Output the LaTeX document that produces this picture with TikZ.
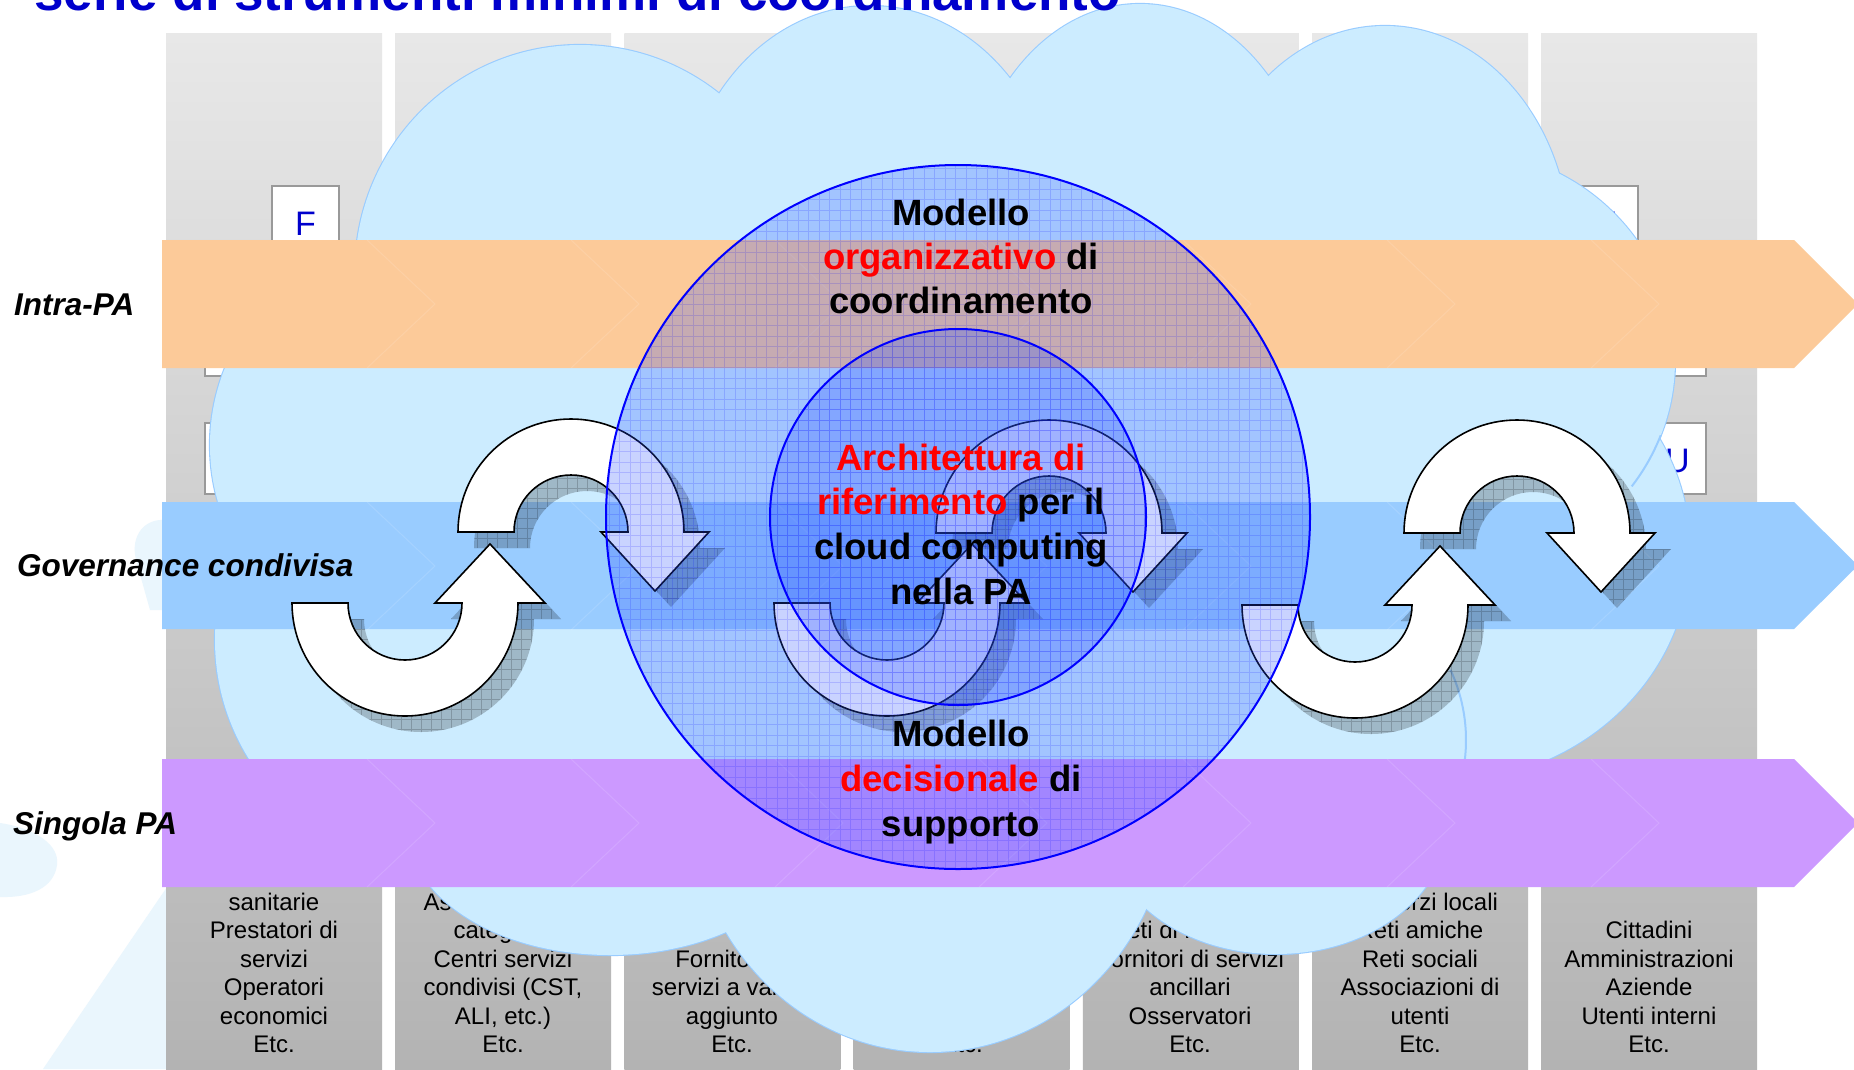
\documentclass[tikz,border=0pt]{standalone}
\usepackage{fontspec}
\setmainfont{Liberation Sans}
\definecolor{titleblue}{RGB}{0,0,204}
\definecolor{colTop}{RGB}{232,232,232}
\definecolor{colBot}{RGB}{179,179,179}
\definecolor{cloudfill}{RGB}{204,236,255}
\definecolor{cloudline}{RGB}{153,204,255}
\definecolor{bandorange}{RGB}{252,202,153}
\definecolor{bandblue}{RGB}{153,204,255}
\definecolor{bandpurple}{RGB}{204,153,255}
\definecolor{circfill}{RGB}{40,80,255}
\definecolor{faintblue}{RGB}{234,246,253}
\definecolor{boxgray}{RGB}{153,153,153}
\definecolor{pured}{RGB}{255,0,0}
\tikzset{
  coltext/.style={font=\fontsize{24}{28}\selectfont, anchor=base, inner sep=0pt},
  ctext/.style={font=\fontsize{36.5}{44}\selectfont\bfseries, anchor=base, inner sep=0pt},
  bandlabel/.style={font=\fontsize{31.5}{36}\selectfont\bfseries\itshape, anchor=base west, inner sep=0pt},
  boxst/.style={fill=white, draw=boxgray, line width=1.5pt},
  boxletter/.style={font=\fontsize{34}{40}\selectfont, text=titleblue, anchor=base, inner sep=0pt},
  chev/.style={draw=white, draw opacity=.12, line width=1pt},
  arrowbody/.style={fill=white, draw=black, line width=1.6pt, line join=miter},
  shadowbody/.style={fill=black, fill opacity=.22},
  shadowgrid/.style={draw=black, draw opacity=.18, line width=.5pt},
  circgrid/.style={draw=blue, draw opacity=.15, line width=.6pt},
  circline/.style={draw=blue, line width=2pt},
  pics/topshadow/.style={code={
    \begin{scope}[shift={(16,-16)}]
      \fill[shadowbody] (-113,0) arc[start angle=180,end angle=0,radius=113pt] -- (138,0) -- (84,-59) -- (30,0) -- (57,0) arc[start angle=0,end angle=180,radius=57pt] -- cycle;
      \clip (-113,0) arc[start angle=180,end angle=0,radius=113pt] -- (138,0) -- (84,-59) -- (30,0) -- (57,0) arc[start angle=0,end angle=180,radius=57pt] -- cycle;
      \draw[shadowgrid, step=10pt] (-120,-70) grid (150,120);
    \end{scope}
  }},
  pics/topbody/.style={code={
    \draw[arrowbody] (-113,0) arc[start angle=180,end angle=0,radius=113pt] -- (138,0) -- (84,-59) -- (30,0) -- (57,0) arc[start angle=0,end angle=180,radius=57pt] -- cycle;
  }},
  pics/botshadow/.style={code={
    \begin{scope}[shift={(16,-16)}]
      \fill[shadowbody] (-113,0) arc[start angle=180,end angle=360,radius=113pt] -- (140,0) -- (85,59) -- (30,0) -- (57,0) arc[start angle=360,end angle=180,radius=57pt] -- cycle;
      \clip (-113,0) arc[start angle=180,end angle=360,radius=113pt] -- (140,0) -- (85,59) -- (30,0) -- (57,0) arc[start angle=360,end angle=180,radius=57pt] -- cycle;
      \draw[shadowgrid, step=10pt] (-120,-120) grid (150,70);
    \end{scope}
  }},
  pics/botbody/.style={code={
    \draw[arrowbody] (-113,0) arc[start angle=180,end angle=360,radius=113pt] -- (140,0) -- (85,59) -- (30,0) -- (57,0) arc[start angle=360,end angle=180,radius=57pt] -- cycle;
  }}
}
\begin{document}
\begin{tikzpicture}[x=1pt,y=1pt]
\useasboundingbox (0,0) rectangle (1854,-1069);
\fill[white] (0,0) rectangle (1854,-1069);

% faint background swoosh
\fill[faintblue] (43,-1069) -- (167,-887) -- (167,-1069) -- cycle;
\fill[faintblue] (0,-823) .. controls (35,-828) and (60,-845) .. (57,-865) .. controls (54,-888) and (30,-898) .. (0,-897) -- cycle;
\fill[faintblue] (166,-520) .. controls (145,-518) and (130,-535) .. (136,-560) -- (150,-610) -- (166,-610) -- cycle;

% gray columns
\foreach \i in {0,...,6}
  \shade[top color=colTop, bottom color=colBot] ({166+229.2*\i},-33) rectangle ++(216,-1036);

% small boxes
\draw[boxst] (272,-186) rectangle (339,-300);
\node[boxletter] (boxF) at (305.5,-235) {F};
\draw[boxst] (205,-330) rectangle (330,-376);
\draw[boxst] (205,-423) rectangle (290,-494);
\draw[boxst] (1573,-186) rectangle (1638,-300);
\node[boxletter] (boxR) at (1605.5,-235) {U};
\draw[boxst] (1580,-330) rectangle (1706,-376);
\draw[boxst] (1649,-423) rectangle (1706,-494);
\node[boxletter] (boxU) at (1677.5,-472) {U};

% column texts
\node[coltext] (c1a) at (274,-910) {sanitarie};
\node[coltext] (c1b) at (274,-938) {Prestatori di};
\node[coltext] (c1c) at (274,-967) {servizi};
\node[coltext] (c1d) at (274,-995) {Operatori};
\node[coltext] (c1e) at (274,-1024) {economici};
\node[coltext] (c1f) at (274,-1052) {Etc.};
\node[coltext] (c2a) at (503,-910) {Associazioni di};
\node[coltext] (c2b) at (503,-938) {categoria};
\node[coltext] (c2c) at (503,-967) {Centri servizi};
\node[coltext] (c2d) at (503,-995) {condivisi (CST,};
\node[coltext] (c2e) at (503,-1024) {ALI, etc.)};
\node[coltext] (c2f) at (503,-1052) {Etc.};
\node[coltext] (c3b) at (732,-967) {Fornitori di};
\node[coltext] (c3c) at (732,-995) {servizi a valore};
\node[coltext] (c3d) at (732,-1024) {aggiunto};
\node[coltext] (c3e) at (732,-1052) {Etc.};
\node[coltext] (c4f) at (962,-1052) {Etc.};
\node[coltext] (c5a) at (1190,-938) {Reti di imprese};
\node[coltext] (c5b) at (1190,-967) {Fornitori di servizi};
\node[coltext] (c5c) at (1190,-995) {ancillari};
\node[coltext] (c5d) at (1190,-1024) {Osservatori};
\node[coltext] (c5e) at (1190,-1052) {Etc.};
\node[coltext] (c6a) at (1420,-910) {Consorzi locali};
\node[coltext] (c6b) at (1420,-938) {Reti amiche};
\node[coltext] (c6c) at (1420,-967) {Reti sociali};
\node[coltext] (c6d) at (1420,-995) {Associazioni di};
\node[coltext] (c6e) at (1420,-1024) {utenti};
\node[coltext] (c6f) at (1420,-1052) {Etc.};
\node[coltext] (c7a) at (1649,-938) {Cittadini};
\node[coltext] (c7b) at (1649,-967) {Amministrazioni};
\node[coltext] (c7c) at (1649,-995) {Aziende};
\node[coltext] (c7d) at (1649,-1024) {Utenti interni};
\node[coltext] (c7e) at (1649,-1052) {Etc.};

% cloud
\foreach \cx/\cy/\rx/\ry in {580/272/225/227, 870/230/190/224, 1140/230/175/226, 1385/250/185/224, 1460/360/215/210, 1440/550/250/232, 415/445/205/205, 440/640/225/225, 610/828/202/127, 930/792/242/260, 1276/826/170/128}
  \draw[draw=cloudline, line width=2.2pt] (\cx,-\cy) ellipse[x radius=\rx pt, y radius=\ry pt];
\foreach \cx/\cy/\rx/\ry in {580/272/225/227, 870/230/190/224, 1140/230/175/226, 1385/250/185/224, 1460/360/215/210, 1440/550/250/232, 415/445/205/205, 440/640/225/225, 610/828/202/127, 930/792/242/260, 1276/826/170/128}
  \fill[cloudfill] (\cx,-\cy) ellipse[x radius=\rx pt, y radius=\ry pt];
\fill[cloudfill] (580,-272) -- (870,-230) -- (1140,-230) -- (1385,-250) -- (1460,-360) -- (1440,-550) -- (1276,-826) -- (930,-792) -- (610,-828) -- (440,-640) -- (415,-445) -- cycle;
\draw[draw=cloudline, line width=2pt] (1460,-360) ++(-21:215pt and 210pt) arc[start angle=-21, end angle=-37, x radius=215pt, y radius=210pt];
\draw[draw=cloudline, line width=2pt] (1300,-740) ++(25:166pt) arc[start angle=25, end angle=-7, radius=166pt];

% bands
\fill[bandorange] (162,-240) -- (1794,-240) -- (1858,-304) -- (1794,-368) -- (162,-368) -- cycle;
\fill[bandblue] (162,-502) -- (1794,-502) -- (1858,-565.5) -- (1794,-629) -- (162,-629) -- cycle;
\fill[bandpurple] (162,-759) -- (1794,-759) -- (1858,-823) -- (1794,-887) -- (162,-887) -- cycle;
\foreach \y in {240,502,759}
  \foreach \x in {367,571,775,979,1183,1387,1591}
    \draw[chev] (\x,-\y) -- ++(68,-64) -- ++(-68,-64);

% band labels
\node[bandlabel] (lintra) at (14,-315) {Intra-PA};
\node[bandlabel] (lgov) at (17,-576) {Governance condivisa};
\node[bandlabel] (lsing) at (13,-834) {Singola PA};

% circular arrows
\pic at (571,-532) {topshadow};
\pic at (405,-603) {botshadow};
\pic at (1049,-533) {topshadow};
\pic at (887,-603) {botshadow};
\pic at (1517,-533) {topshadow};
\pic at (1355,-605) {botshadow};
\pic at (571,-532) {topbody};
\pic at (405,-603) {botbody};
\pic at (1049,-533) {topbody};
\pic at (887,-603) {botbody};
\pic at (1517,-533) {topbody};
\pic at (1355,-605) {botbody};

% circles
\begin{scope}
  \clip (958,-517) circle[radius=352pt];
  \fill[circfill, opacity=.25] (600,-160) rectangle (1320,-880);
  \draw[circgrid, step=10.5pt] (600,-160) grid (1320,-880);
\end{scope}
\begin{scope}
  \clip (958,-517) circle[radius=188pt];
  \fill[circfill, opacity=.25] (760,-320) rectangle (1160,-720);
  \draw[circgrid, step=10.5pt] (600,-160) grid (1320,-880);
\end{scope}
\draw[circline] (958,-517) circle[radius=352pt];
\draw[circline] (958,-517) circle[radius=188pt];

% circle texts
\node[ctext] (m1) at (961,-225) {Modello};
\node[ctext] (m2) at (961,-269) {\textcolor{pured}{organizzativo} di};
\node[ctext] (m3) at (961,-313) {coordinamento};
\node[ctext] (a1) at (961,-470) {\textcolor{pured}{Architettura di}};
\node[ctext] (a2) at (961,-514) {\textcolor{pured}{riferimento} per il};
\node[ctext] (a3) at (961,-559) {cloud computing};
\node[ctext] (a4) at (961,-604) {nella PA};
\node[ctext] (d1) at (961,-746) {Modello};
\node[ctext] (d2) at (961,-791) {\textcolor{pured}{decisionale} di};
\node[ctext] (d3) at (961,-836) {supporto};

% title (cut off at the top edge, as in the reference)
\node[anchor=base west, inner sep=0pt, font=\fontsize{53}{60}\selectfont\bfseries, text=titleblue] (title) at (34,-10) {serie di strumenti minimi di coordinamento};
\end{tikzpicture}
\end{document}
